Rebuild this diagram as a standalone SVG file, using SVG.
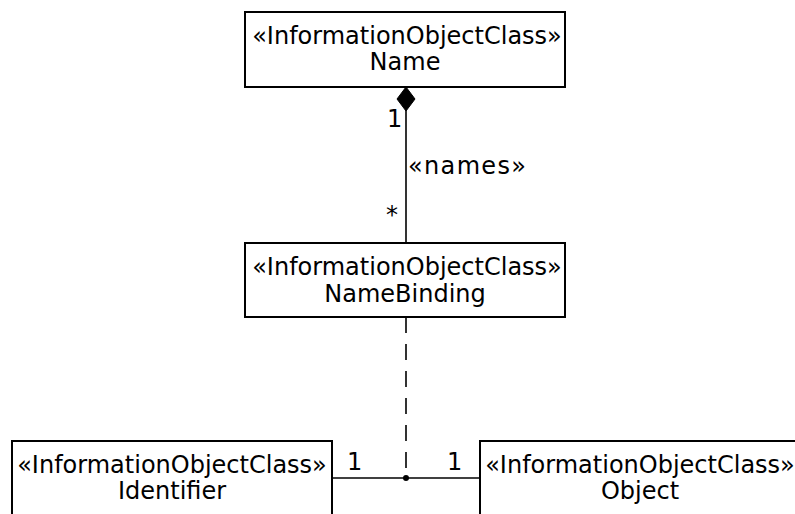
<svg xmlns="http://www.w3.org/2000/svg" width="795" height="514" viewBox="0 0 795 514">
<style>
.box{fill:#fff;stroke:#000;stroke-width:2}
.t{font-family:"DejaVu Sans",sans-serif;font-size:24px;fill:#000;text-anchor:middle}
.l{font-family:"DejaVu Sans",sans-serif;font-size:24px;fill:#000}
.c{stroke:#000;stroke-width:1.6;fill:none}
</style>
<rect width="795" height="514" fill="#fff"/>
<g id="connectors">
<line class="c" x1="406" y1="110" x2="406" y2="243"/>
<polygon points="406,87 415,99 406,111 397,99" fill="#000" stroke="#000" stroke-width="1"/>
<line class="c" x1="406" y1="317" x2="406" y2="478" stroke-dasharray="16,11"/>
<line class="c" x1="332" y1="478" x2="480" y2="478"/>
<circle cx="406" cy="478" r="3" fill="#000"/>
<text class="l" x="387" y="127">1</text>
<text class="l" x="386" y="223" font-size="27">*</text>
<text class="l" x="408" y="174" textLength="118">«names»</text>
<text class="l" x="347" y="470">1</text>
<text class="l" x="447" y="470">1</text>
</g>
<g id="Name">
<rect class="box" x="245" y="12" width="320" height="75"/>
<text class="t" x="407" y="44">«InformationObjectClass»</text>
<text class="t" x="405" y="70">Name</text>
</g>
<g id="NameBinding">
<rect class="box" x="245" y="243" width="320" height="74"/>
<text class="t" x="407" y="275">«InformationObjectClass»</text>
<text class="t" x="405" y="302">NameBinding</text>
</g>
<g id="Identifier">
<rect class="box" x="12" y="441" width="320" height="80"/>
<text class="t" x="172" y="473">«InformationObjectClass»</text>
<text class="t" x="172" y="499">Identifier</text>
</g>
<g id="Object">
<rect class="box" x="480" y="441" width="320" height="80"/>
<text class="t" x="640" y="473">«InformationObjectClass»</text>
<text class="t" x="640" y="499">Object</text>
</g>
</svg>
